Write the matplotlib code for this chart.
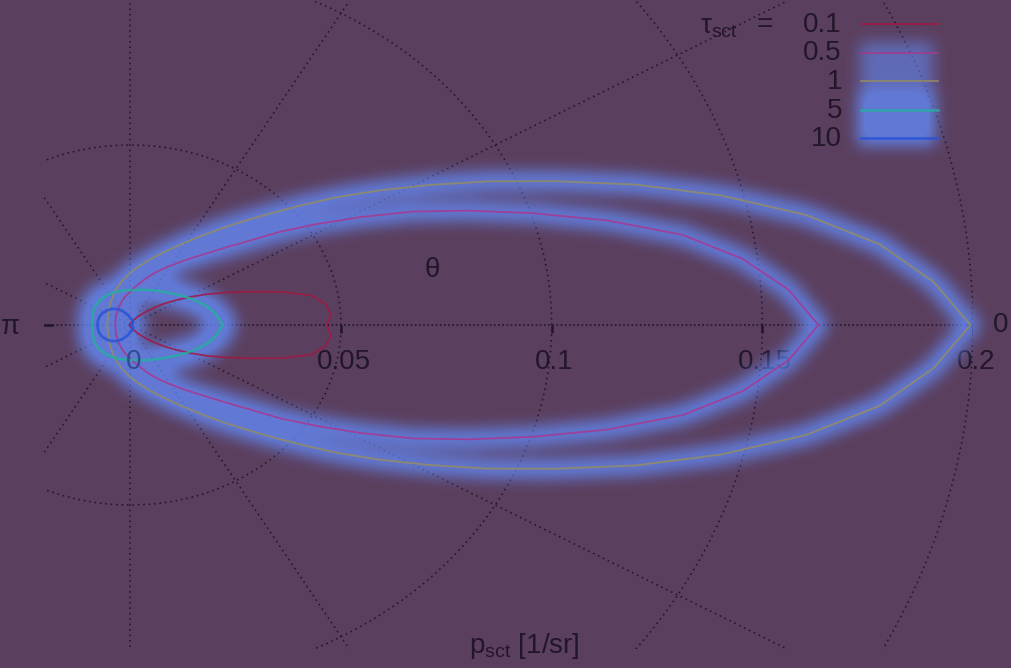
import numpy as np
import matplotlib
matplotlib.use('Agg')
import matplotlib.pyplot as plt
from matplotlib.figure import Figure
from matplotlib.backends.backend_agg import FigureCanvasAgg
from matplotlib.lines import Line2D
from matplotlib.patches import Rectangle

plt.rcParams['font.family'] = ['Liberation Sans', 'DejaVu Sans']

# ---------------- data ----------------
THETA_DEG = [0, 3.6, 7.2, 10.8, 14.4, 18, 21.6, 25.2, 28.8, 32.4, 36, 39.6,
             43.2, 46.8, 50.4, 54, 57.6, 61.2, 64.8, 68.4, 72, 75.6, 79.2,
             82.8, 86.4, 90, 99, 108, 117, 126, 135, 144, 153, 162, 171, 180]
TAU_LABELS = ["0.1", "0.5", "1", "5", "10"]
P_TAU_0_1 = [0.0466, 0.0477, 0.0467, 0.0438, 0.0370, 0.0300, 0.0245, 0.0201,
             0.0162, 0.0129, 0.0103, 0.0080, 0.0060, 0.0045, 0.0034, 0.0025,
             0.0019, 0.0014, 0.0011, 0.0009, 0.0007, 0.0006, 0.0005, 0.0005,
             0.0004, 0.0004, 0.0003, 0.0003, 0.0003, 0.0003, 0.0002, 0.0002,
             0.0002, 0.0002, 0.0002, 0.0002]
P_TAU_0_5 = [0.1633, 0.1565, 0.1465, 0.1335, 0.1168, 0.1005, 0.0863, 0.0740,
             0.0622, 0.0523, 0.0442, 0.0368, 0.0317, 0.0277, 0.0247, 0.0223,
             0.0202, 0.0185, 0.0169, 0.0155, 0.0142, 0.0129, 0.0118, 0.0109,
             0.0101, 0.0093, 0.0080, 0.0068, 0.0058, 0.0051, 0.0046, 0.0042,
             0.0039, 0.0037, 0.0036, 0.0036]
P_TAU_1 = [0.1994, 0.1910, 0.1792, 0.1632, 0.1447, 0.1262, 0.1085, 0.0937,
           0.0807, 0.0697, 0.0603, 0.0519, 0.0451, 0.0397, 0.0353, 0.0315,
           0.0284, 0.0258, 0.0236, 0.0218, 0.0202, 0.0188, 0.0175, 0.0164,
           0.0154, 0.0145, 0.0124, 0.0106, 0.0091, 0.0079, 0.0070, 0.0063,
           0.0059, 0.0056, 0.0055, 0.0055]
P_TAU_5 = [0.0218, 0.0213, 0.0207, 0.0200, 0.0192, 0.0183, 0.0174, 0.0165,
           0.0157, 0.0149, 0.0142, 0.0135, 0.0129, 0.0124, 0.0120, 0.0116,
           0.0113, 0.0110, 0.0107, 0.0105, 0.0103, 0.0101, 0.0099, 0.0098,
           0.0097, 0.0097, 0.0097, 0.0098, 0.0099, 0.0100, 0.0100, 0.0099,
           0.0097, 0.0094, 0.0092, 0.0091]
P_TAU_10 = [0.0003, 0.0003, 0.0003, 0.0004, 0.0004, 0.0004, 0.0005, 0.0005,
            0.0006, 0.0006, 0.0007, 0.0008, 0.0008, 0.0009, 0.0010, 0.0011,
            0.0011, 0.0012, 0.0013, 0.0013, 0.0014, 0.0015, 0.0016, 0.0017,
            0.0018, 0.0019, 0.0026, 0.0034, 0.0045, 0.0055, 0.0063, 0.0069,
            0.0074, 0.0077, 0.0078, 0.0078]
SERIES = [P_TAU_0_1, P_TAU_0_5, P_TAU_1, P_TAU_5, P_TAU_10]

R_TICKS = [0, 0.05, 0.1, 0.15, 0.2]
R_TICK_LABELS = ["0", "0.05", "0.1", "0.15", "0.2"]
RINGS = [0.05, 0.1, 0.15, 0.2]
SPOKES_DEG = [30, 60, 90, 120, 150, 210, 240, 270, 300, 330]
XLIM = (-0.0205, 0.2)
YLIM = (-0.09, 0.09)

# ---------------- style ----------------
W, H = 1011, 668
BG = '#5b3f5e'
INK = '#22162a'
GLOW_INK = '#2e4c92'
COLORS = ['#a01844', '#a8378f', '#948c62', '#26ad9f', '#2a55d6']
LWS = [1.3, 1.3, 1.3, 1.8, 2.0]
GLOW_W = [0, 18, 18, 28, 24]   # glow band widths in pixels
FS = 20


def px2fig(x, y):
    return x / W, 1 - y / H


def full_curve(theta_deg, r):
    th = np.deg2rad(np.asarray(theta_deg, float))
    r = np.asarray(r, float)
    th_f = np.concatenate([th, 2 * np.pi - th[-2::-1]])
    r_f = np.concatenate([r, r[-2::-1]])
    return r_f * np.cos(th_f), r_f * np.sin(th_f)


def box_blur(a, r):
    for axis in (0, 1):
        pad = [(r + 1, r) if i == axis else (0, 0) for i in range(2)]
        c = np.cumsum(np.pad(a, pad, mode='edge'), axis=axis)
        if axis == 0:
            a = (c[2 * r + 1:] - c[:-2 * r - 1]) / (2 * r + 1)
        else:
            a = (c[:, 2 * r + 1:] - c[:, :-2 * r - 1]) / (2 * r + 1)
    return a


fig = plt.figure(figsize=(W / 100, H / 100), dpi=100, facecolor=BG)
pos = [44 / W, (H - 649) / H, 929 / W, 648 / H]

ax = fig.add_axes(pos)
ax.set_xlim(XLIM)
ax.set_ylim(YLIM)
ax.axis('off')

top = fig.add_axes(pos)
top.set_xlim(XLIM)
top.set_ylim(YLIM)
top.axis('off')
top.set_zorder(2)
top.patch.set_visible(False)

# polar grid
phi = np.linspace(0, 2 * np.pi, 1441)
GRID_LS = (0, (1, 2.4))
for R in RINGS:
    ax.plot(R * np.cos(phi), R * np.sin(phi), ls=GRID_LS, color=INK, lw=1.15)
for s in SPOKES_DEG:
    a = np.deg2rad(s)
    ax.plot([0, RINGS[-1] * np.cos(a)], [0, RINGS[-1] * np.sin(a)],
            ls=GRID_LS, color=INK, lw=1.15)
ax.plot([XLIM[0], XLIM[1]], [0, 0], ls=(0, (1, 1.5)), color=INK, lw=1.2)

# r-axis tick marks and labels
ax.vlines(R_TICKS, -0.0022, 0, color=INK, lw=1.8)
ax.plot([XLIM[0], XLIM[0] + 0.002], [0, 0], color=INK, lw=1.8)
ax.plot([XLIM[1] - 0.0015, XLIM[1]], [0, 0], color=INK, lw=1.8)
for t, lab in zip(R_TICKS, R_TICK_LABELS):
    in_glow = (t == R_TICKS[0])
    (top if in_glow else ax).annotate(
        lab, (t, 0), xytext=(3, -37), textcoords='offset pixels',
        ha='center', va='center', fontsize=FS,
        color=GLOW_INK if in_glow else INK)

# theta labels / axis label
fig.text(*px2fig(11, 327), 'π', ha='center', va='center', fontsize=FS, color=INK)
fig.text(*px2fig(1001, 325), '0', ha='center', va='center', fontsize=FS, color=INK)
fig.text(*px2fig(432, 270), 'θ', ha='center', va='center', fontsize=FS, color=INK)
fig.text(*px2fig(524, 646), r'$\mathregular{p_{sct}}$ [1/sr]', ha='center',
         va='center', fontsize=FS, color=INK)

# curves
curves = [full_curve(THETA_DEG, s) for s in SERIES]
for (x, y), c, lw in zip(curves, COLORS, LWS):
    top.plot(x, y, color=c, lw=lw, alpha=0.85, solid_joinstyle='round')

# legend
leg_y0, leg_dy = 24, 28.5
for i, (lab, c, lw) in enumerate(zip(TAU_LABELS, COLORS, LWS)):
    y = leg_y0 + i * leg_dy
    fig.add_artist(Line2D([861 / W, 938 / W], [1 - y / H] * 2, transform=fig.transFigure,
                          color=c, lw=lw, alpha=0.85, zorder=3))
    fig.text(*px2fig(842, y + 1), lab, ha='right', va='center', fontsize=FS,
             color=INK, zorder=3)
fig.text(*px2fig(700, 27), r'$\mathregular{τ_{sct}}$', ha='left', va='center',
         fontsize=FS, color=INK, zorder=3)
fig.text(*px2fig(765, 25), '=', ha='center', va='center', fontsize=FS,
         color=INK, zorder=3)

# glow overlay (blurred band along the curves)
f2 = Figure(figsize=(W / 100, H / 100), dpi=100, facecolor='black')
FigureCanvasAgg(f2)
a2 = f2.add_axes([0, 0, 1, 1])
a2.set_xlim(0, W)
a2.set_ylim(0, H)
a2.axis('off')
for (x, y), gw in zip(curves, GLOW_W):
    if gw:
        d = ax.transData.transform(np.column_stack([x, y]))
        a2.plot(d[:, 0], d[:, 1], color='white', lw=gw * 0.72,
                solid_capstyle='round', solid_joinstyle='round')
a2.add_patch(Rectangle((860, H - 142), 72, 100, color='0.62'))
a2.add_patch(Rectangle((858, H - 144), 76, 52, color='white'))
f2.canvas.draw()
m = np.asarray(f2.canvas.buffer_rgba())[:, :, 0].astype(float) / 255.0
for _ in range(3):
    m = box_blur(m, 7)
img = np.zeros((H, W, 4))
img[..., 0] = 100 / 255
img[..., 1] = 142 / 255
img[..., 2] = 1.0
img[..., 3] = np.clip(m * 1.2, 0, 1) * 0.74
fig.figimage(img, 0, 0, zorder=1, origin='upper')

fig.savefig('out.png', dpi=100, facecolor=BG)
